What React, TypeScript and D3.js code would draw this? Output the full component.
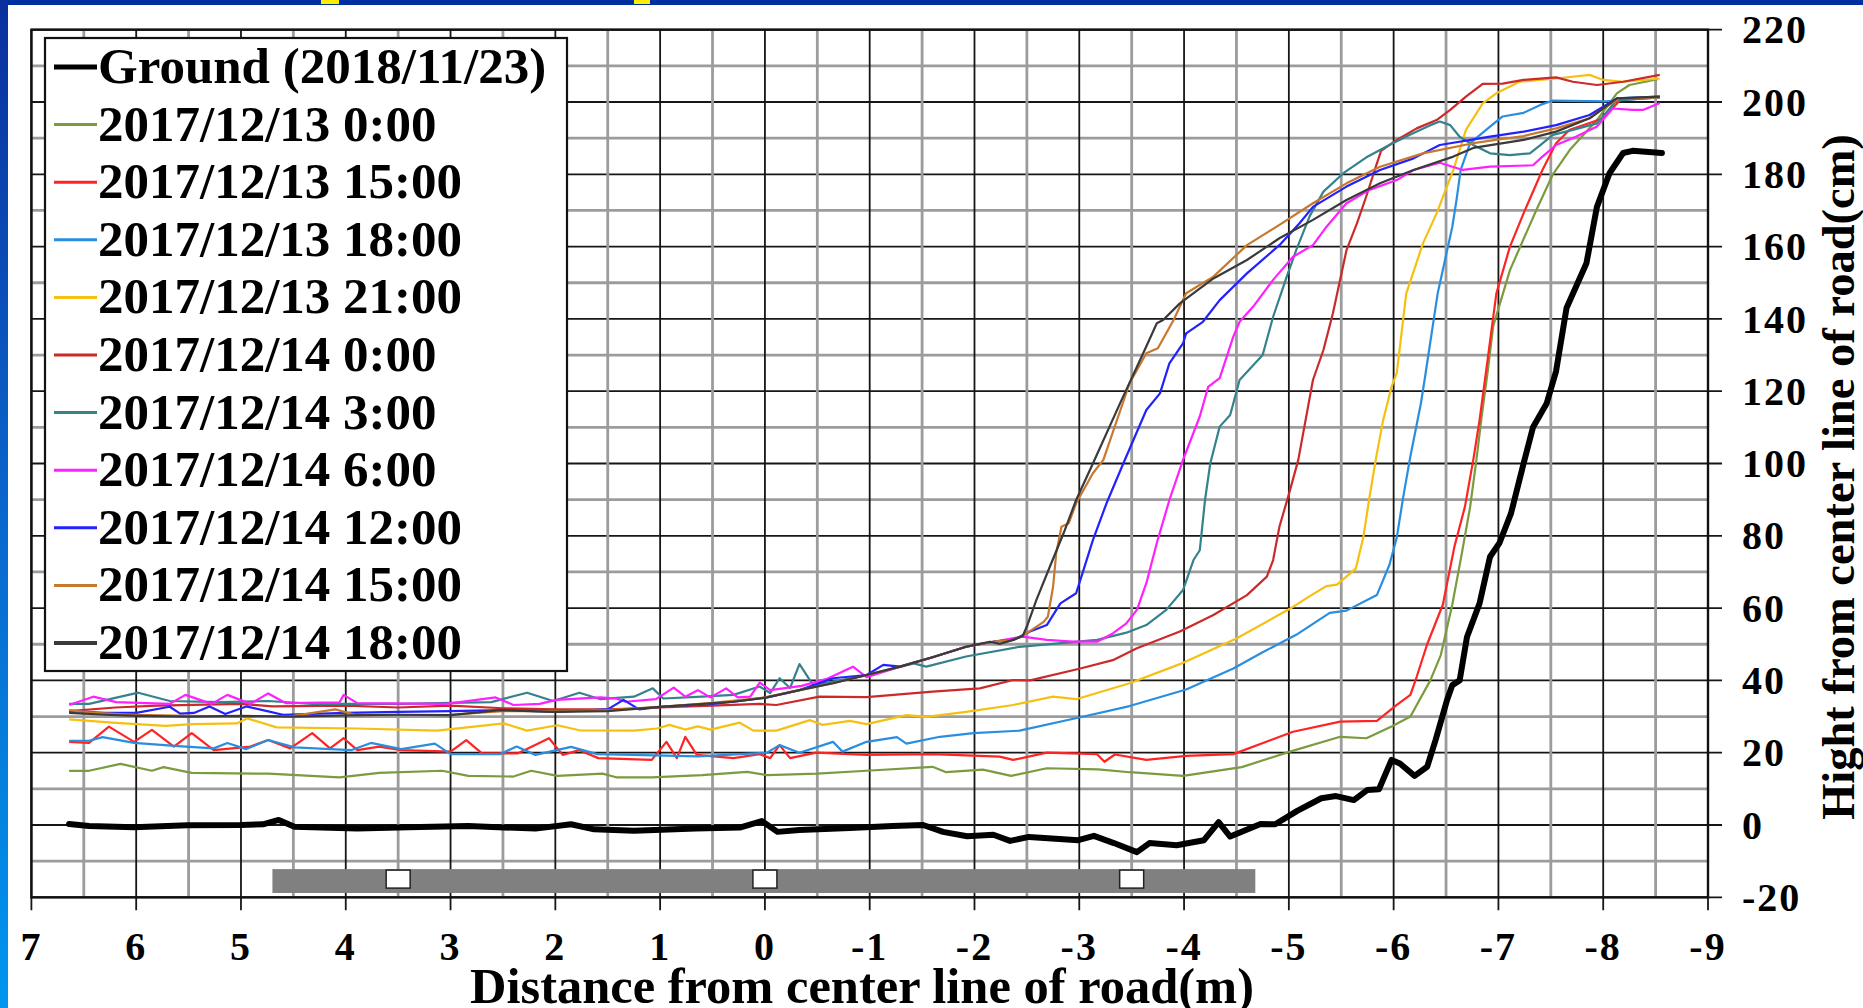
import React from 'react';
import * as d3 from 'd3';

type Pt = [number, number];

const xTicks: number[] = [7, 6, 5, 4, 3, 2, 1, 0, -1, -2, -3, -4, -5, -6, -7, -8, -9];
const yTicks: number[] = [220, 200, 180, 160, 140, 120, 100, 80, 60, 40, 20, 0, -20];

const seriesNames: string[] = [
  'Ground (2018/11/23)',
  '2017/12/13 0:00',
  '2017/12/13 15:00',
  '2017/12/13 18:00',
  '2017/12/13 21:00',
  '2017/12/14 0:00',
  '2017/12/14 3:00',
  '2017/12/14 6:00',
  '2017/12/14 12:00',
  '2017/12/14 15:00',
  '2017/12/14 18:00',
];
const seriesColors: string[] = [
  '#000000', '#7a9b3e', '#ff2424', '#2a8ee0', '#f6c012', '#cc2a2a',
  '#34828c', '#ff1fff', '#2222ff', '#c8782e', '#3a3a3a',
];

const ground: Pt[] = [[6.64,0.3],[6.45,-0.3],[6.02,-0.6],[5.51,-0.1],[5.0,0.0],[4.79,0.2],[4.64,1.4],[4.49,-0.5],[3.89,-1.0],[3.4,-0.6],[2.83,-0.3],[2.19,-1.0],[1.85,0.2],[1.63,-1.2],[1.25,-1.6],[0.66,-1.0],[0.24,-0.7],[0.03,1.1],[-0.12,-1.9],[-0.33,-1.4],[-0.81,-0.8],[-1.22,-0.3],[-1.51,0.0],[-1.70,-1.9],[-1.93,-3.1],[-2.18,-2.7],[-2.34,-4.4],[-2.52,-3.3],[-2.99,-4.2],[-3.14,-3.0],[-3.33,-5.0],[-3.55,-7.5],[-3.67,-5.0],[-3.93,-5.6],[-4.19,-4.2],[-4.33,0.8],[-4.44,-3.2],[-4.73,0.3],[-4.87,0.2],[-5.08,3.9],[-5.31,7.4],[-5.45,8.0],[-5.62,6.9],[-5.75,9.7],[-5.86,9.9],[-5.98,18],[-6.06,17],[-6.20,13.6],[-6.32,16.1],[-6.40,23.5],[-6.51,34.6],[-6.56,38.7],[-6.63,40],[-6.70,52],[-6.82,61.3],[-6.92,74.2],[-7.01,78],[-7.12,86.2],[-7.24,100],[-7.33,110],[-7.46,116.6],[-7.55,125.5],[-7.65,143],[-7.84,155.4],[-7.94,171],[-8.06,180.3],[-8.19,185.9],[-8.28,186.5],[-8.56,185.9]];

const s1213_0000: Pt[] = [[6.64,15.0],[6.45,15.0],[6.15,16.9],[5.85,15.0],[5.74,16.0],[5.47,14.4],[4.74,14.2],[4.06,13.2],[3.68,14.4],[3.08,15.0],[2.83,13.6],[2.40,13.4],[2.23,15.0],[1.98,13.6],[1.55,14.2],[1.42,13.2],[1.08,13.2],[0.6,13.8],[0.17,14.7],[-0.02,13.8],[-0.5,14.2],[-0.97,15.0],[-1.60,16.1],[-1.73,14.6],[-2.08,15.3],[-2.35,13.6],[-2.69,15.7],[-3.18,15.4],[-3.48,14.6],[-3.99,13.6],[-4.55,16.0],[-5.01,20.3],[-5.49,24.4],[-5.74,24.0],[-5.99,27.4],[-6.16,30],[-6.35,40],[-6.45,47],[-6.56,61],[-6.65,75],[-6.73,88],[-6.79,101],[-6.84,113],[-6.90,126],[-6.95,138],[-7.11,153.5],[-7.36,170],[-7.52,180],[-7.68,186.7],[-7.94,195],[-8.13,202.4],[-8.25,204.7],[-8.52,206.3]];

const s1213_1500: Pt[] = [[6.64,23.0],[6.45,22.7],[6.26,27.2],[6.02,23.0],[5.85,26.3],[5.64,21.7],[5.47,25.4],[5.26,20.7],[4.91,21.7],[4.74,23.5],[4.53,21.2],[4.32,25.4],[4.15,21.2],[4.02,24.0],[3.89,20.7],[3.68,21.7],[3.47,20.7],[3.00,20.3],[2.85,23.5],[2.70,19.8],[2.36,19.8],[2.06,24.0],[1.93,19.4],[1.77,20.7],[1.59,18.5],[1.08,18.0],[0.94,23.0],[0.84,18.5],[0.76,24.4],[0.65,19.4],[0.30,18.5],[0.05,19.6],[-0.05,18.5],[-0.14,22.1],[-0.24,18.5],[-0.49,20.0],[-0.97,19.4],[-1.60,19.6],[-2.24,18.9],[-2.37,18.0],[-2.69,20.0],[-3.17,19.6],[-3.24,17.5],[-3.34,19.5],[-3.64,18.0],[-4.02,19.1],[-4.47,19.6],[-5.04,25.8],[-5.49,28.6],[-5.84,28.8],[-6.03,33.2],[-6.16,36.0],[-6.22,41],[-6.32,50],[-6.47,61],[-6.58,77],[-6.68,88],[-6.76,101],[-6.82,112],[-6.88,125],[-6.98,147],[-7.11,160],[-7.24,169.2],[-7.42,181.2],[-7.55,188.6],[-7.68,192.3],[-7.87,194.2],[-8.00,195.5],[-8.16,200.5],[-8.54,201.4]];

const s1213_1800: Pt[] = [[6.64,23.3],[6.45,23.3],[6.32,24.3],[6.02,22.7],[5.6,21.8],[5.26,21.2],[5.13,22.7],[4.95,21.0],[4.74,23.5],[4.49,21.5],[3.95,20.7],[3.76,22.7],[3.47,21.0],[3.15,22.5],[3.00,19.6],[2.53,19.6],[2.37,21.7],[2.19,19.4],[1.85,21.6],[1.6,19.6],[1.26,19.4],[0.64,19.0],[-0.02,20.0],[-0.14,22.1],[-0.33,20.0],[-0.65,23.0],[-0.74,20.3],[-0.97,23.0],[-1.26,24.3],[-1.35,22.5],[-1.67,24.4],[-1.99,25.4],[-2.43,26.1],[-3.01,29.8],[-3.48,32.9],[-4.02,37.5],[-4.47,43.3],[-4.75,47.8],[-5.07,52.6],[-5.39,58.7],[-5.55,59.3],[-5.84,63.6],[-5.96,72],[-6.03,79.5],[-6.09,90.5],[-6.16,102],[-6.26,116.6],[-6.30,124],[-6.42,147],[-6.56,165.5],[-6.60,172.9],[-6.64,181.2],[-6.73,188.6],[-6.92,193.2],[-7.04,196],[-7.24,197],[-7.40,199.2],[-7.52,200.4],[-8.03,200.2],[-8.54,201.3]];

const s1213_2100: Pt[] = [[6.64,29.2],[6.23,28.3],[5.72,27.4],[5.47,27.9],[5.04,28.1],[4.94,29.5],[4.66,27.0],[3.89,26.7],[3.13,26.1],[2.49,28.1],[2.27,26.1],[1.98,27.6],[1.77,26.2],[1.25,26.1],[1.03,26.7],[0.91,27.7],[0.76,26.4],[0.64,27.3],[0.52,26.4],[0.24,28.3],[0.11,26.1],[-0.11,26.1],[-0.43,29.0],[-0.55,27.7],[-0.81,28.8],[-0.97,27.9],[-1.35,30.4],[-1.54,29.9],[-1.92,31.3],[-2.37,33.2],[-2.75,35.5],[-2.97,34.8],[-3.48,39.2],[-3.96,44.5],[-4.50,51.6],[-5.01,59.8],[-5.20,63.3],[-5.36,66.1],[-5.46,66.5],[-5.64,71],[-5.71,79.5],[-5.77,90.8],[-5.84,102.8],[-5.90,112],[-5.98,121.2],[-6.03,125],[-6.12,147],[-6.28,160.9],[-6.41,169.2],[-6.57,181.2],[-6.69,192.3],[-6.85,199.6],[-6.98,202.4],[-7.20,205.6],[-7.55,206.5],[-7.87,207.5],[-8.00,206.1],[-8.19,205.6],[-8.54,206.5]];

const s1214_0000: Pt[] = [[6.64,31.5],[6.2,32.5],[5.8,33.0],[5.0,33.5],[4.7,32.8],[4.0,33.0],[3.5,32.5],[3.0,33.0],[2.5,32.3],[2.0,32.0],[1.5,32.0],[1.0,32.5],[0.5,33.0],[0.05,33.5],[-0.11,33.2],[-0.52,35.5],[-0.97,35.4],[-1.60,36.9],[-2.05,37.8],[-2.37,40.1],[-2.53,40.0],[-3.01,43.3],[-3.32,45.6],[-3.55,48.9],[-3.96,53.5],[-4.28,58.1],[-4.60,63.6],[-4.79,68.7],[-4.85,73.3],[-4.91,82.5],[-5.01,92.5],[-5.09,101],[-5.23,123.1],[-5.33,131.4],[-5.42,141.5],[-5.55,159],[-5.65,166.4],[-5.74,174],[-5.82,181.2],[-5.88,186.5],[-6.03,189.5],[-6.22,192.7],[-6.41,195],[-6.54,197.8],[-6.69,201.5],[-6.85,205],[-7.04,205.1],[-7.24,206.1],[-7.55,206.8],[-7.71,205.6],[-7.94,204.7],[-8.19,205.6],[-8.54,207.5]];

const s1214_0300: Pt[] = [[6.64,33.5],[6.45,33.5],[5.98,36.6],[5.68,34.3],[5.2,34.0],[4.74,34.3],[4.32,33.5],[3.47,33.5],[3.0,33.8],[2.61,34.0],[2.27,36.6],[2.02,34.3],[1.77,36.6],[1.57,34.8],[1.25,35.5],[1.07,37.8],[0.97,35.0],[0.6,35.5],[0.3,36],[0.05,38.3],[-0.05,36.5],[-0.14,40.6],[-0.24,37.9],[-0.33,44.5],[-0.46,38.7],[-0.65,39.7],[-0.97,41.4],[-1.42,44.7],[-1.54,43.8],[-1.92,46.6],[-2.43,49.3],[-3.17,51.2],[-3.45,53.2],[-3.64,55.3],[-3.83,59.5],[-3.99,65],[-4.09,73.3],[-4.15,76],[-4.20,89.9],[-4.25,100],[-4.34,110.2],[-4.44,113.4],[-4.53,123.1],[-4.75,130],[-4.85,140.6],[-4.98,151.7],[-5.07,159],[-5.20,168.5],[-5.33,175.2],[-5.52,180.3],[-5.74,184.7],[-5.96,188.1],[-6.15,190.9],[-6.35,193.6],[-6.44,194.6],[-6.54,193.6],[-6.63,190.4],[-6.76,188.1],[-6.92,185.8],[-7.11,185.3],[-7.30,185.8],[-7.40,188.1],[-7.52,190.9],[-7.71,192.3],[-7.94,194.1],[-8.13,200.5],[-8.54,201.3]];

const s1214_0600: Pt[] = [[6.64,33.2],[6.41,35.5],[6.19,34.0],[5.68,33.5],[5.53,36.0],[5.28,33.5],[5.13,36.0],[4.91,33.5],[4.74,36.4],[4.57,33.7],[4.06,33.9],[4.02,36.0],[3.89,33.7],[3.04,33.5],[2.57,35.3],[2.40,33.2],[2.15,33.5],[1.99,34.6],[1.57,35.3],[1.42,35.0],[1.33,34.1],[1.04,34.8],[0.87,38.0],[0.76,35.5],[0.64,37.3],[0.52,35.3],[0.37,37.8],[0.26,35.3],[0.14,35.5],[0.05,39.4],[-0.05,37.3],[-0.35,38.5],[-0.6,40.5],[-0.84,43.8],[-0.97,40.9],[-1.29,43.8],[-1.60,46.4],[-1.92,49.3],[-2.18,50.7],[-2.46,52.1],[-2.69,51.2],[-2.94,50.7],[-3.17,50.7],[-3.32,53],[-3.45,55.8],[-3.55,59.5],[-3.64,66.9],[-3.74,78],[-3.86,89.9],[-3.99,101],[-4.15,113],[-4.23,121.2],[-4.34,123.6],[-4.47,135.1],[-4.53,139.2],[-4.66,143.4],[-4.85,150.8],[-5.04,157.2],[-5.23,160.4],[-5.36,165.5],[-5.55,172],[-5.77,175.7],[-6.03,178.4],[-6.19,181.2],[-6.44,183.2],[-6.66,181.2],[-6.92,182.1],[-7.33,182.5],[-7.42,184.9],[-7.55,188.1],[-7.74,190.4],[-7.94,193.2],[-8.09,198.2],[-8.28,197.8],[-8.38,197.8],[-8.54,199.7]];

const s1214_1200: Pt[] = [[6.64,31.5],[6.3,31.0],[6.0,31.0],[5.68,32.7],[5.58,30.8],[5.45,31.0],[5.3,32.8],[5.15,30.7],[4.95,32.8],[4.75,31.5],[4.6,30.5],[4.0,31.0],[3.5,31.3],[3.0,31.5],[2.5,31.8],[2.0,31.3],[1.5,32.0],[1.35,34.6],[1.2,32.0],[1.0,32.7],[0.5,33.5],[0.3,34.1],[-0.02,35.3],[-0.33,37.3],[-0.65,40.6],[-0.97,41.5],[-1.13,44.3],[-1.29,43.8],[-1.60,46.4],[-1.92,49.3],[-2.18,50.7],[-2.37,51.2],[-2.53,53.5],[-2.69,55.3],[-2.82,61.3],[-2.97,64.1],[-3.04,70.5],[-3.13,78.8],[-3.26,89],[-3.42,100],[-3.64,114.8],[-3.77,119.4],[-3.86,127.7],[-3.99,133.2],[-4.02,136],[-4.18,139.2],[-4.34,145.2],[-4.60,152.6],[-4.91,160.4],[-5.10,166.4],[-5.23,171],[-5.55,176.6],[-5.87,181.2],[-6.19,184.4],[-6.44,188.1],[-6.92,190.4],[-7.24,191.8],[-7.55,193.6],[-7.87,196.4],[-8.13,201],[-8.54,201.5]];

const s1214_1500: Pt[] = [[6.64,31.8],[6.4,31.0],[6.0,30.5],[5.5,30.2],[5.0,30.0],[4.5,30.2],[4.1,32.0],[3.9,30.4],[3.0,30.5],[2.5,31.5],[2.0,31.5],[1.5,31.8],[1.0,32.7],[0.5,33.8],[0.0,35.3],[-0.33,37.3],[-0.65,39.2],[-0.97,41.5],[-1.29,43.8],[-1.60,46.4],[-1.92,49.3],[-2.18,50.7],[-2.37,51.2],[-2.46,52.3],[-2.66,56.2],[-2.70,57.6],[-2.75,65.9],[-2.78,75.2],[-2.83,82.5],[-2.90,83.5],[-2.97,89],[-3.13,97.3],[-3.23,101],[-3.48,122.2],[-3.64,130.5],[-3.75,131.9],[-3.90,139.7],[-4.02,147.1],[-4.28,151.7],[-4.60,160.4],[-4.91,166],[-5.23,172],[-5.55,177.5],[-5.87,182.1],[-6.28,185.8],[-6.76,188.6],[-7.24,190.6],[-7.55,192.7],[-7.87,195.5],[-8.03,198.7],[-8.16,201],[-8.54,201.3]];

const s1214_1800: Pt[] = [[6.64,31.0],[6.3,30.5],[6.0,30.2],[5.5,30.0],[5.0,30.2],[4.5,30.0],[4.0,30.3],[3.5,30.5],[3.0,30.4],[2.53,31.8],[2.02,31.3],[1.5,31.5],[1.00,32.7],[0.30,34.1],[-0.02,35.3],[-0.33,37.3],[-0.65,39.2],[-0.97,41.5],[-1.29,43.8],[-1.60,46.4],[-1.92,49.3],[-2.05,50.1],[-2.15,50.7],[-2.24,50.1],[-2.37,51.2],[-2.46,52.3],[-2.50,54.9],[-2.59,62.2],[-2.72,71.5],[-2.85,80.7],[-2.97,89.9],[-3.13,100],[-3.39,116.7],[-3.61,130.5],[-3.74,138.8],[-3.80,139.7],[-3.96,144.3],[-4.28,151.2],[-4.60,156.3],[-4.91,162.3],[-5.23,167.4],[-5.55,172.9],[-5.87,177.5],[-6.19,181.2],[-6.57,184.9],[-6.76,187.3],[-7.24,189.5],[-7.55,191.8],[-7.87,195.5],[-8.13,201],[-8.54,201.5]];

const roadSpan: number[] = [4.7, -4.68];
const roadDepth: number[] = [-12.2, -18.8];
const roadMarks: number[] = [3.5, 0, -3.5];

const seriesData: Pt[][] = [ground, s1213_0000, s1213_1500, s1213_1800, s1213_2100, s1214_0000, s1214_0300, s1214_0600, s1214_1200, s1214_1500, s1214_1800];

const FONT = "'Liberation Serif', 'Times New Roman', serif";

export default function App() {
  const W = 1863, H = 1008;
  const left = 31.4, right = 1708, top = 29.7, bottom = 897.3;
  const x = d3.scaleLinear().domain([7, -9]).range([left, right]);
  const y = d3.scaleLinear().domain([-20, 220]).range([bottom, top]);
  const line = d3.line<Pt>().x(d => x(d[0])).y(d => y(d[1]));

  const vGrid = d3.range(14, -18.5, -1).map(v => v / 2);
  const hGrid = d3.range(-20, 221, 10);

  const legX = 45, legY = 38, legW = 522, legH = 633;

  return (
    <svg width={W} height={H} viewBox={`0 0 ${W} ${H}`}
      style={{ position: 'absolute', left: 0, top: 0, display: 'block', background: '#fff' }}>
      <defs>
        <linearGradient id="leftStrip" x1="0" y1="0" x2="0" y2="1">
          <stop offset="0" stopColor="#0a2f9e" />
          <stop offset="0.5" stopColor="#0a66cc" />
          <stop offset="1" stopColor="#0096ee" />
        </linearGradient>
      </defs>
      <rect x={0} y={0} width={W} height={H} fill="#ffffff" />
      <rect x={0} y={0} width={W} height={5} fill="#0030a0" />
      <rect x={0} y={0} width={8} height={H} fill="url(#leftStrip)" />
      <rect x={321} y={0} width={18} height={4} fill="#ffee00" />
      <rect x={634} y={0} width={16} height={4} fill="#ffee00" />

      {/* grid */}
      {hGrid.map(v => {
        const major = v % 20 === 0;
        return <line key={'h' + v} x1={left} x2={major ? right + 14 : right} y1={y(v)} y2={y(v)}
          stroke={major ? '#161616' : '#9c9c9c'} strokeWidth={major ? 1.8 : 2.8} />;
      })}
      {vGrid.map(v => {
        const major = Number.isInteger(v);
        return <line key={'v' + v} x1={x(v)} x2={x(v)} y1={top} y2={major ? bottom + 13 : bottom}
          stroke={major ? '#161616' : '#9c9c9c'} strokeWidth={major ? 1.8 : 2.8} />;
      })}
      <rect x={left} y={top} width={right - left} height={bottom - top} fill="none" stroke="#111" strokeWidth={2.4} />

      {/* road */}
      <rect x={x(roadSpan[0])} y={y(roadDepth[0])} width={x(roadSpan[1]) - x(roadSpan[0])}
        height={y(roadDepth[1]) - y(roadDepth[0])} fill="#808080" />
      {roadMarks.map(m => (
        <rect key={'m' + m} x={x(m) - 12} y={y(roadDepth[0]) + 1} width={24} height={18}
          fill="#ffffff" stroke="#222" strokeWidth={1.5} />
      ))}

      {/* series */}
      {seriesData.slice(1).map((d, i) => (
        <path key={'s' + i} d={line(d) || ''} fill="none" stroke={seriesColors[i + 1]}
          strokeWidth={2.2} strokeLinejoin="round" />
      ))}
      <path d={line(seriesData[0]) || ''} fill="none" stroke={seriesColors[0]} strokeWidth={6}
        strokeLinejoin="round" strokeLinecap="round" />

      {/* y tick labels */}
      {yTicks.map(v => (
        <text key={'yl' + v} x={1742} y={y(v)} dy="0.34em" fontFamily={FONT} fontWeight="bold"
          fontSize={40} letterSpacing={2} fill="#000">{String(v)}</text>
      ))}
      {/* x tick labels */}
      {xTicks.map(v => (
        <text key={'xl' + v} x={x(v)} y={960} textAnchor="middle" fontFamily={FONT} fontWeight="bold"
          fontSize={40} letterSpacing={2} fill="#000">{v < 0 ? '-' + Math.abs(v) : String(v)}</text>
      ))}

      <text x={862} y={1003} textAnchor="middle" fontFamily={FONT} fontWeight="bold" fontSize={50.5} fill="#000">
        Distance from center line of road(m)
      </text>
      <text transform="translate(1854,477) rotate(-90)" textAnchor="middle" fontFamily={FONT} fontWeight="bold"
        fontSize={46.5} fill="#000">
        Hight from center line of road(cm)
      </text>

      {/* legend */}
      <rect x={legX} y={legY} width={legW} height={legH} fill="#ffffff" stroke="#111" strokeWidth={2.2} />
      {seriesNames.map((n, i) => {
        const base = 83 + i * 57.6;
        return (
          <g key={'lg' + i}>
            <line x1={54} x2={97} y1={base - 16} y2={base - 16} stroke={seriesColors[i]}
              strokeWidth={i === 0 ? 5 : (i === 10 ? 4 : 3)} />
            <text x={98} y={base} fontFamily={FONT} fontWeight="bold" fontSize={51} fill="#000">{n}</text>
          </g>
        );
      })}
    </svg>
  );
}
